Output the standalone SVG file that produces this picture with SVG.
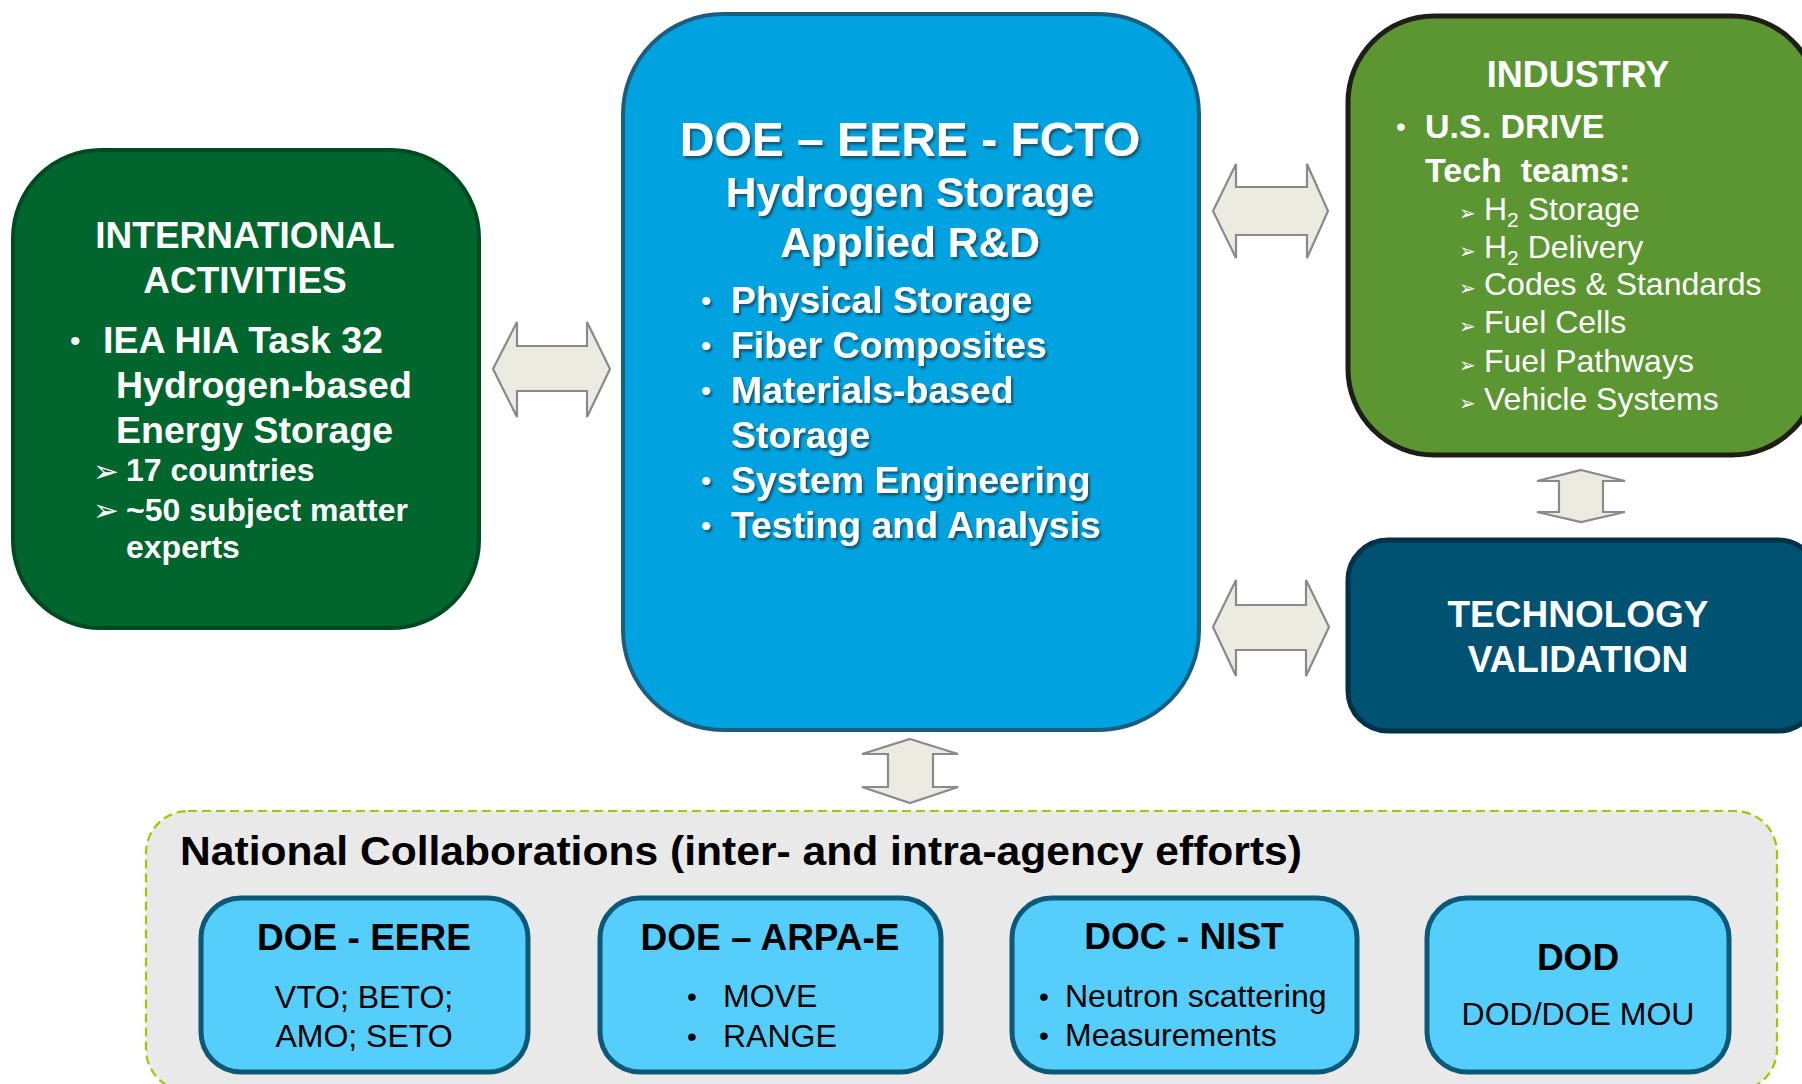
<svg xmlns="http://www.w3.org/2000/svg" width="1802" height="1084" viewBox="0 0 1802 1084">
<defs>
<style>
.b{font-family:"Liberation Sans",Arial,sans-serif;font-weight:bold}
.r{font-family:"Liberation Sans",Arial,sans-serif}
.w{fill:#ffffff}
.k{fill:#000000}
.c{text-anchor:middle}
.arr{fill:#ecebe1;stroke:#8a8a8a;stroke-width:2.2;stroke-linejoin:miter}
.sym{font-family:"DejaVu Sans",sans-serif}
.small{fill:#55cefc;stroke:#0c5877;stroke-width:5}
</style>
<filter id="sh" x="-5%" y="-20%" width="110%" height="140%">
<feDropShadow dx="2" dy="2.5" stdDeviation="1" flood-color="#1b3b4b" flood-opacity="0.75"/>
</filter>
</defs>
<rect width="1802" height="1084" fill="#ffffff"/>

<g id="national">
<rect x="146" y="811" width="1631" height="280" rx="42" fill="#e9e9e9" stroke="#99cc00" stroke-width="2.2" stroke-dasharray="9,5"/>
<text class="b k" x="180" y="865" font-size="41" textLength="1122" lengthAdjust="spacingAndGlyphs">National Collaborations (inter- and intra-agency efforts)</text>
</g>

<g id="international">
<rect x="13" y="150" width="466" height="478" rx="88" fill="#00662e" stroke="#004a22" stroke-width="4"/>
<text class="b w c" x="245" y="248" font-size="37">INTERNATIONAL</text>
<text class="b w c" x="245" y="293" font-size="37">ACTIVITIES</text>
<text class="r w" x="70" y="351" font-size="30">•</text>
<text class="b w" x="103" y="353" font-size="37.5">IEA HIA Task 32</text>
<text class="b w" x="116" y="398" font-size="37.5">Hydrogen-based</text>
<text class="b w" x="116" y="443" font-size="37.5">Energy Storage</text>
<text class="sym w" x="93" y="482" font-size="31">➢</text>
<text class="b w" x="126" y="481" font-size="32">17 countries</text>
<text class="sym w" x="93" y="521" font-size="31">➢</text>
<text class="b w" x="126" y="521" font-size="32">~50 subject matter</text>
<text class="b w" x="126" y="558" font-size="32">experts</text>
</g>

<g id="fcto">
<rect x="623" y="14" width="576" height="716" rx="100" fill="#00a3e0" stroke="#1c5d7e" stroke-width="4"/>
<g filter="url(#sh)">
<text class="b w c" x="910" y="156" font-size="48">DOE – EERE - FCTO</text>
<text class="b w c" x="910" y="207" font-size="42.5">Hydrogen Storage</text>
<text class="b w c" x="910" y="257" font-size="42.5">Applied R&amp;D</text>
<text class="r w" x="701" y="311" font-size="30">•</text>
<text class="b w" x="731" y="313" font-size="37.4">Physical Storage</text>
<text class="r w" x="701" y="356" font-size="30">•</text>
<text class="b w" x="731" y="358" font-size="37.4">Fiber Composites</text>
<text class="r w" x="701" y="401" font-size="30">•</text>
<text class="b w" x="731" y="403" font-size="37.4">Materials-based</text>
<text class="b w" x="731" y="448" font-size="37.4">Storage</text>
<text class="r w" x="701" y="491" font-size="30">•</text>
<text class="b w" x="731" y="493" font-size="37.4">System Engineering</text>
<text class="r w" x="701" y="536" font-size="30">•</text>
<text class="b w" x="731" y="538" font-size="37.4">Testing and Analysis</text>
</g>
</g>

<g id="industry">
<rect x="1348" y="16" width="470" height="439" rx="86" fill="#5b9632" stroke="#1e1e16" stroke-width="5"/>
<text class="b w c" x="1578" y="87" font-size="36">INDUSTRY</text>
<text class="r w" x="1396" y="136" font-size="28">•</text>
<text class="b w" x="1425" y="138" font-size="34">U.S. DRIVE</text>
<text class="b w" x="1425" y="182" font-size="34" xml:space="preserve">Tech  teams:</text>
<text class="sym w" x="1459" y="220" font-size="20">➢</text>
<text class="r w" x="1484" y="220" font-size="32">H<tspan font-size="21" dy="7">2</tspan><tspan dy="-7"> Storage</tspan></text>
<text class="sym w" x="1459" y="258" font-size="20">➢</text>
<text class="r w" x="1484" y="258" font-size="32">H<tspan font-size="21" dy="7">2</tspan><tspan dy="-7"> Delivery</tspan></text>
<text class="sym w" x="1459" y="295" font-size="20">➢</text>
<text class="r w" x="1484" y="295" font-size="32">Codes &amp; Standards</text>
<text class="sym w" x="1459" y="333" font-size="20">➢</text>
<text class="r w" x="1484" y="333" font-size="32">Fuel Cells</text>
<text class="sym w" x="1459" y="372" font-size="20">➢</text>
<text class="r w" x="1484" y="372" font-size="32">Fuel Pathways</text>
<text class="sym w" x="1459" y="410" font-size="20">➢</text>
<text class="r w" x="1484" y="410" font-size="32">Vehicle Systems</text>
</g>

<g id="techval">
<rect x="1348" y="540" width="470" height="191" rx="40" fill="#005272" stroke="#003349" stroke-width="5"/>
<text class="b w c" x="1578" y="627" font-size="37">TECHNOLOGY</text>
<text class="b w c" x="1578" y="672" font-size="37">VALIDATION</text>
</g>

<g id="doe-eere">
<rect class="small" x="201" y="898" width="327" height="174" rx="40"/>
<text class="b k c" x="364" y="950" font-size="37">DOE - EERE</text>
<text class="r k c" x="364" y="1008" font-size="32">VTO; BETO;</text>
<text class="r k c" x="364" y="1047" font-size="32">AMO; SETO</text>
</g>

<g id="arpa-e">
<rect class="small" x="600" y="898" width="341" height="174" rx="40"/>
<text class="b k c" x="770" y="950" font-size="37">DOE – ARPA-E</text>
<text class="r k" x="687" y="1006" font-size="28">•</text>
<text class="r k" x="723" y="1007" font-size="32">MOVE</text>
<text class="r k" x="687" y="1046" font-size="28">•</text>
<text class="r k" x="723" y="1047" font-size="32">RANGE</text>
</g>

<g id="doc-nist">
<rect class="small" x="1012" y="898" width="345" height="174" rx="40"/>
<text class="b k c" x="1184" y="949" font-size="37">DOC - NIST</text>
<text class="r k" x="1039" y="1006" font-size="28">•</text>
<text class="r k" x="1065" y="1007" font-size="32">Neutron scattering</text>
<text class="r k" x="1039" y="1045" font-size="28">•</text>
<text class="r k" x="1065" y="1046" font-size="32">Measurements</text>
</g>

<g id="dod">
<rect class="small" x="1427" y="898" width="302" height="174" rx="40"/>
<text class="b k c" x="1578" y="970" font-size="37">DOD</text>
<text class="r k c" x="1578" y="1025" font-size="32">DOD/DOE MOU</text>
</g>

<g id="connectors">
<path class="arr" d="M493,369 L517,322 L517,346 L587,346 L587,322 L610,369 L587,417 L587,391 L517,391 L517,417 Z"/>
<path class="arr" d="M1213,211 L1236,164 L1236,187 L1307,187 L1307,164 L1328,211 L1307,258 L1307,235 L1236,235 L1236,258 Z"/>
<path class="arr" d="M1213,627 L1236,580 L1236,605 L1306,605 L1306,580 L1329,627 L1306,676 L1306,650 L1236,650 L1236,676 Z"/>
<path class="arr" d="M1581,470 L1625,481 L1603,481 L1603,512 L1625,512 L1581,522 L1537,512 L1559,512 L1559,481 L1537,481 Z"/>
<path class="arr" d="M910,739 L958,754 L933,754 L933,787 L958,787 L910,803 L862,787 L888,787 L888,754 L862,754 Z"/>
</g>
</svg>
